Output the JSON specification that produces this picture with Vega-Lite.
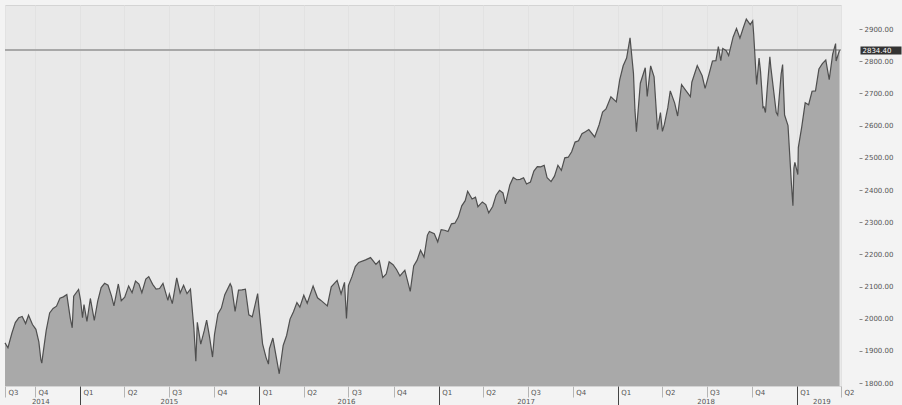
{
  "$schema": "https://vega.github.io/schema/vega-lite/v6.json",
  "width": 836,
  "height": 381,
  "autosize": {"type": "none"},
  "padding": {"left": 5, "top": 5, "right": 61, "bottom": 19},
  "background": "#f3f3f3",
  "config": {
    "view": {"fill": "#e9e9e9", "stroke": "#d4d4d4"},
    "font": "DejaVu Sans",
    "axis": {"labelFont": "DejaVu Sans", "labelFontSize": 7, "labelColor": "#555555", "domain": false, "grid": false}
  },
  "data": {"values": [
    {"d": "2014-08-01", "v": 1925}, {"d": "2014-08-07", "v": 1910}, {"d": "2014-08-15", "v": 1955}, {"d": "2014-08-22", "v": 1988},
    {"d": "2014-08-29", "v": 2003}, {"d": "2014-09-05", "v": 2007}, {"d": "2014-09-12", "v": 1985}, {"d": "2014-09-18", "v": 2011},
    {"d": "2014-09-26", "v": 1982}, {"d": "2014-10-03", "v": 1967}, {"d": "2014-10-09", "v": 1928}, {"d": "2014-10-13", "v": 1874},
    {"d": "2014-10-15", "v": 1862}, {"d": "2014-10-17", "v": 1886}, {"d": "2014-10-24", "v": 1964}, {"d": "2014-10-31", "v": 2018},
    {"d": "2014-11-07", "v": 2032}, {"d": "2014-11-14", "v": 2039}, {"d": "2014-11-21", "v": 2064}, {"d": "2014-11-28", "v": 2068},
    {"d": "2014-12-05", "v": 2075}, {"d": "2014-12-12", "v": 2002}, {"d": "2014-12-16", "v": 1972}, {"d": "2014-12-19", "v": 2070},
    {"d": "2014-12-29", "v": 2091}, {"d": "2015-01-02", "v": 2058}, {"d": "2015-01-06", "v": 2003}, {"d": "2015-01-09", "v": 2044},
    {"d": "2015-01-15", "v": 1992}, {"d": "2015-01-22", "v": 2063}, {"d": "2015-01-30", "v": 1995}, {"d": "2015-02-06", "v": 2055},
    {"d": "2015-02-13", "v": 2097}, {"d": "2015-02-20", "v": 2110}, {"d": "2015-02-27", "v": 2104}, {"d": "2015-03-06", "v": 2071},
    {"d": "2015-03-11", "v": 2040}, {"d": "2015-03-20", "v": 2108}, {"d": "2015-03-26", "v": 2056}, {"d": "2015-04-02", "v": 2067},
    {"d": "2015-04-10", "v": 2102}, {"d": "2015-04-17", "v": 2081}, {"d": "2015-04-24", "v": 2117}, {"d": "2015-05-01", "v": 2108},
    {"d": "2015-05-07", "v": 2081}, {"d": "2015-05-15", "v": 2123}, {"d": "2015-05-21", "v": 2131}, {"d": "2015-05-29", "v": 2107},
    {"d": "2015-06-05", "v": 2092}, {"d": "2015-06-12", "v": 2094}, {"d": "2015-06-19", "v": 2110}, {"d": "2015-06-29", "v": 2057},
    {"d": "2015-07-02", "v": 2077}, {"d": "2015-07-08", "v": 2047}, {"d": "2015-07-17", "v": 2127}, {"d": "2015-07-24", "v": 2080},
    {"d": "2015-07-31", "v": 2104}, {"d": "2015-08-07", "v": 2078}, {"d": "2015-08-14", "v": 2092}, {"d": "2015-08-21", "v": 1971},
    {"d": "2015-08-25", "v": 1868}, {"d": "2015-08-28", "v": 1989}, {"d": "2015-09-04", "v": 1921}, {"d": "2015-09-11", "v": 1962},
    {"d": "2015-09-16", "v": 1996}, {"d": "2015-09-22", "v": 1943}, {"d": "2015-09-28", "v": 1881}, {"d": "2015-10-02", "v": 1951},
    {"d": "2015-10-09", "v": 2015}, {"d": "2015-10-16", "v": 2033}, {"d": "2015-10-23", "v": 2075}, {"d": "2015-11-03", "v": 2109},
    {"d": "2015-11-06", "v": 2099}, {"d": "2015-11-13", "v": 2023}, {"d": "2015-11-20", "v": 2089}, {"d": "2015-11-27", "v": 2090},
    {"d": "2015-12-04", "v": 2092}, {"d": "2015-12-11", "v": 2012}, {"d": "2015-12-18", "v": 2006}, {"d": "2015-12-29", "v": 2078},
    {"d": "2015-12-31", "v": 2044}, {"d": "2016-01-08", "v": 1922}, {"d": "2016-01-15", "v": 1880}, {"d": "2016-01-20", "v": 1859},
    {"d": "2016-01-22", "v": 1907}, {"d": "2016-01-29", "v": 1940}, {"d": "2016-02-05", "v": 1880}, {"d": "2016-02-11", "v": 1829},
    {"d": "2016-02-19", "v": 1917}, {"d": "2016-02-26", "v": 1948}, {"d": "2016-03-04", "v": 1999}, {"d": "2016-03-11", "v": 2022},
    {"d": "2016-03-18", "v": 2050}, {"d": "2016-03-24", "v": 2036}, {"d": "2016-04-01", "v": 2073}, {"d": "2016-04-08", "v": 2048},
    {"d": "2016-04-20", "v": 2102}, {"d": "2016-04-29", "v": 2065}, {"d": "2016-05-06", "v": 2057}, {"d": "2016-05-19", "v": 2040},
    {"d": "2016-05-27", "v": 2099}, {"d": "2016-06-08", "v": 2119}, {"d": "2016-06-16", "v": 2077}, {"d": "2016-06-23", "v": 2113},
    {"d": "2016-06-27", "v": 2001}, {"d": "2016-07-01", "v": 2103}, {"d": "2016-07-08", "v": 2130}, {"d": "2016-07-15", "v": 2162},
    {"d": "2016-07-22", "v": 2175}, {"d": "2016-08-05", "v": 2183}, {"d": "2016-08-15", "v": 2190}, {"d": "2016-08-26", "v": 2169},
    {"d": "2016-09-02", "v": 2180}, {"d": "2016-09-09", "v": 2128}, {"d": "2016-09-16", "v": 2139}, {"d": "2016-09-22", "v": 2177},
    {"d": "2016-09-30", "v": 2168}, {"d": "2016-10-07", "v": 2153}, {"d": "2016-10-14", "v": 2133}, {"d": "2016-10-24", "v": 2151},
    {"d": "2016-11-04", "v": 2085}, {"d": "2016-11-11", "v": 2164}, {"d": "2016-11-18", "v": 2182}, {"d": "2016-11-25", "v": 2213},
    {"d": "2016-12-02", "v": 2192}, {"d": "2016-12-09", "v": 2260}, {"d": "2016-12-13", "v": 2271}, {"d": "2016-12-23", "v": 2264},
    {"d": "2016-12-30", "v": 2239}, {"d": "2017-01-06", "v": 2277}, {"d": "2017-01-13", "v": 2275}, {"d": "2017-01-20", "v": 2271},
    {"d": "2017-01-27", "v": 2295}, {"d": "2017-02-03", "v": 2297}, {"d": "2017-02-10", "v": 2316}, {"d": "2017-02-17", "v": 2351},
    {"d": "2017-02-24", "v": 2367}, {"d": "2017-03-01", "v": 2396}, {"d": "2017-03-10", "v": 2372}, {"d": "2017-03-17", "v": 2378},
    {"d": "2017-03-22", "v": 2348}, {"d": "2017-03-31", "v": 2363}, {"d": "2017-04-07", "v": 2355}, {"d": "2017-04-13", "v": 2329},
    {"d": "2017-04-21", "v": 2349}, {"d": "2017-04-28", "v": 2384}, {"d": "2017-05-05", "v": 2399}, {"d": "2017-05-12", "v": 2391},
    {"d": "2017-05-17", "v": 2357}, {"d": "2017-05-26", "v": 2416}, {"d": "2017-06-02", "v": 2439}, {"d": "2017-06-09", "v": 2432},
    {"d": "2017-06-16", "v": 2433}, {"d": "2017-06-23", "v": 2438}, {"d": "2017-06-29", "v": 2419}, {"d": "2017-07-07", "v": 2425},
    {"d": "2017-07-14", "v": 2459}, {"d": "2017-07-21", "v": 2473}, {"d": "2017-07-28", "v": 2472}, {"d": "2017-08-04", "v": 2477},
    {"d": "2017-08-10", "v": 2438}, {"d": "2017-08-18", "v": 2426}, {"d": "2017-08-25", "v": 2443}, {"d": "2017-09-01", "v": 2477},
    {"d": "2017-09-08", "v": 2461}, {"d": "2017-09-15", "v": 2500}, {"d": "2017-09-22", "v": 2502}, {"d": "2017-09-29", "v": 2519},
    {"d": "2017-10-06", "v": 2549}, {"d": "2017-10-13", "v": 2553}, {"d": "2017-10-20", "v": 2575}, {"d": "2017-10-27", "v": 2581},
    {"d": "2017-11-03", "v": 2588}, {"d": "2017-11-15", "v": 2565}, {"d": "2017-11-24", "v": 2603}, {"d": "2017-12-01", "v": 2642},
    {"d": "2017-12-08", "v": 2652}, {"d": "2017-12-18", "v": 2690}, {"d": "2017-12-29", "v": 2674}, {"d": "2018-01-05", "v": 2743},
    {"d": "2018-01-12", "v": 2786}, {"d": "2018-01-19", "v": 2810}, {"d": "2018-01-26", "v": 2873}, {"d": "2018-02-02", "v": 2762},
    {"d": "2018-02-05", "v": 2649}, {"d": "2018-02-08", "v": 2581}, {"d": "2018-02-16", "v": 2732}, {"d": "2018-02-26", "v": 2780},
    {"d": "2018-03-02", "v": 2691}, {"d": "2018-03-09", "v": 2786}, {"d": "2018-03-16", "v": 2752}, {"d": "2018-03-23", "v": 2588},
    {"d": "2018-03-29", "v": 2641}, {"d": "2018-04-02", "v": 2582}, {"d": "2018-04-06", "v": 2604}, {"d": "2018-04-13", "v": 2656},
    {"d": "2018-04-18", "v": 2708}, {"d": "2018-04-27", "v": 2670}, {"d": "2018-05-03", "v": 2630}, {"d": "2018-05-11", "v": 2728},
    {"d": "2018-05-18", "v": 2713}, {"d": "2018-05-29", "v": 2690}, {"d": "2018-06-01", "v": 2735}, {"d": "2018-06-12", "v": 2787},
    {"d": "2018-06-22", "v": 2755}, {"d": "2018-06-28", "v": 2716}, {"d": "2018-07-06", "v": 2760}, {"d": "2018-07-13", "v": 2801},
    {"d": "2018-07-20", "v": 2802}, {"d": "2018-07-25", "v": 2846}, {"d": "2018-07-30", "v": 2802}, {"d": "2018-08-03", "v": 2840},
    {"d": "2018-08-10", "v": 2833}, {"d": "2018-08-15", "v": 2818}, {"d": "2018-08-24", "v": 2875}, {"d": "2018-08-31", "v": 2902},
    {"d": "2018-09-07", "v": 2872}, {"d": "2018-09-14", "v": 2905}, {"d": "2018-09-20", "v": 2931}, {"d": "2018-09-28", "v": 2914},
    {"d": "2018-10-03", "v": 2926}, {"d": "2018-10-05", "v": 2885}, {"d": "2018-10-11", "v": 2728}, {"d": "2018-10-16", "v": 2810},
    {"d": "2018-10-19", "v": 2768}, {"d": "2018-10-24", "v": 2656}, {"d": "2018-10-26", "v": 2658}, {"d": "2018-10-29", "v": 2641},
    {"d": "2018-11-02", "v": 2723}, {"d": "2018-11-07", "v": 2814}, {"d": "2018-11-09", "v": 2781}, {"d": "2018-11-20", "v": 2641},
    {"d": "2018-11-23", "v": 2633}, {"d": "2018-11-30", "v": 2760}, {"d": "2018-12-03", "v": 2790}, {"d": "2018-12-07", "v": 2633},
    {"d": "2018-12-14", "v": 2600}, {"d": "2018-12-21", "v": 2417}, {"d": "2018-12-24", "v": 2351}, {"d": "2018-12-26", "v": 2468},
    {"d": "2018-12-28", "v": 2486}, {"d": "2019-01-03", "v": 2448}, {"d": "2019-01-04", "v": 2532}, {"d": "2019-01-11", "v": 2596},
    {"d": "2019-01-18", "v": 2671}, {"d": "2019-01-25", "v": 2665}, {"d": "2019-02-01", "v": 2707}, {"d": "2019-02-08", "v": 2708},
    {"d": "2019-02-15", "v": 2776}, {"d": "2019-02-22", "v": 2793}, {"d": "2019-03-01", "v": 2804}, {"d": "2019-03-08", "v": 2743},
    {"d": "2019-03-15", "v": 2822}, {"d": "2019-03-21", "v": 2855}, {"d": "2019-03-22", "v": 2801}, {"d": "2019-03-29", "v": 2834.4}
  ]},
  "layer": [
    {
      "mark": {"type": "rule", "color": "#a8a8a8", "strokeWidth": 1},
      "encoding": {"y": {"datum": 2834.4, "type": "quantitative", "axis": null}}
    },
    {
      "mark": {"type": "area", "color": "#a9a9a9", "opacity": 1, "clip": true},
      "encoding": {
        "x": {
          "field": "d", "type": "temporal",
          "scale": {"type": "utc", "domain": [{"year": 2014, "month": 8, "date": 1, "utc": true}, {"year": 2019, "month": 4, "date": 1, "utc": true}]},
          "axis": {
            "orient": "bottom",
            "values": [
              {"year": 2014, "month": 8, "date": 1, "utc": true}, {"year": 2014, "month": 10, "date": 1, "utc": true},
              {"year": 2015, "month": 1, "date": 1, "utc": true}, {"year": 2015, "month": 4, "date": 1, "utc": true},
              {"year": 2015, "month": 7, "date": 1, "utc": true}, {"year": 2015, "month": 10, "date": 1, "utc": true},
              {"year": 2016, "month": 1, "date": 1, "utc": true}, {"year": 2016, "month": 4, "date": 1, "utc": true},
              {"year": 2016, "month": 7, "date": 1, "utc": true}, {"year": 2016, "month": 10, "date": 1, "utc": true},
              {"year": 2017, "month": 1, "date": 1, "utc": true}, {"year": 2017, "month": 4, "date": 1, "utc": true},
              {"year": 2017, "month": 7, "date": 1, "utc": true}, {"year": 2017, "month": 10, "date": 1, "utc": true},
              {"year": 2018, "month": 1, "date": 1, "utc": true}, {"year": 2018, "month": 4, "date": 1, "utc": true},
              {"year": 2018, "month": 7, "date": 1, "utc": true}, {"year": 2018, "month": 10, "date": 1, "utc": true},
              {"year": 2019, "month": 1, "date": 1, "utc": true}, {"year": 2019, "month": 4, "date": 1, "utc": true}
            ],
            "format": "Q%q",
            "title": null,
            "labelAlign": "left",
            "labelBaseline": "top",
            "labelOffset": 3,
            "labelPadding": {"condition": {"test": "utcmonth(datum.value) == 0", "value": -17}, "value": -9},
            "labelOverlap": false,
            "labelBound": false,
            "labelFlush": false,
            "tickSize": {"condition": {"test": "utcmonth(datum.value) == 0", "value": 19}, "value": 11},
            "tickColor": {"condition": {"test": "utcmonth(datum.value) == 0", "value": "#444444"}, "value": "#b5b5b5"},
            "grid": true,
            "gridColor": "#e2e2e2"
          }
        },
        "y": {
          "field": "v", "type": "quantitative",
          "scale": {"domain": [1791, 2975], "nice": false, "zero": false},
          "axis": {
            "orient": "right",
            "values": [1800, 1900, 2000, 2100, 2200, 2300, 2400, 2500, 2600, 2700, 2800, 2900],
            "format": ".2f",
            "title": null,
            "offset": 18,
            "tickSize": 3,
            "tickColor": "#888888",
            "labelPadding": 2
          }
        }
      }
    },
    {
      "mark": {"type": "line", "color": "#4f4f4f", "strokeWidth": 1.2},
      "encoding": {
        "x": {
          "field": "d", "type": "temporal",
          "axis": {
            "orient": "bottom",
            "values": [
              {"year": 2014, "month": 10, "date": 12, "utc": true}, {"year": 2015, "month": 7, "date": 1, "utc": true},
              {"year": 2016, "month": 6, "date": 26, "utc": true}, {"year": 2017, "month": 6, "date": 27, "utc": true},
              {"year": 2018, "month": 6, "date": 29, "utc": true}, {"year": 2019, "month": 2, "date": 20, "utc": true}
            ],
            "format": "%Y",
            "title": null,
            "ticks": false,
            "labelAlign": "center",
            "labelBaseline": "top",
            "labelPadding": 11,
            "labelOverlap": false,
            "labelBound": false,
            "labelFlush": false
          }
        },
        "y": {
          "field": "v", "type": "quantitative",
          "axis": {
            "orient": "right",
            "values": [2834.4],
            "format": ".2f",
            "title": null,
            "offset": 19,
            "tickSize": 41,
            "tickWidth": 8,
            "tickColor": "#333333",
            "labelColor": "#ffffff",
            "labelPadding": -39
          }
        }
      }
    }
  ],
  "resolve": {"axis": {"x": "independent", "y": "independent"}}
}
